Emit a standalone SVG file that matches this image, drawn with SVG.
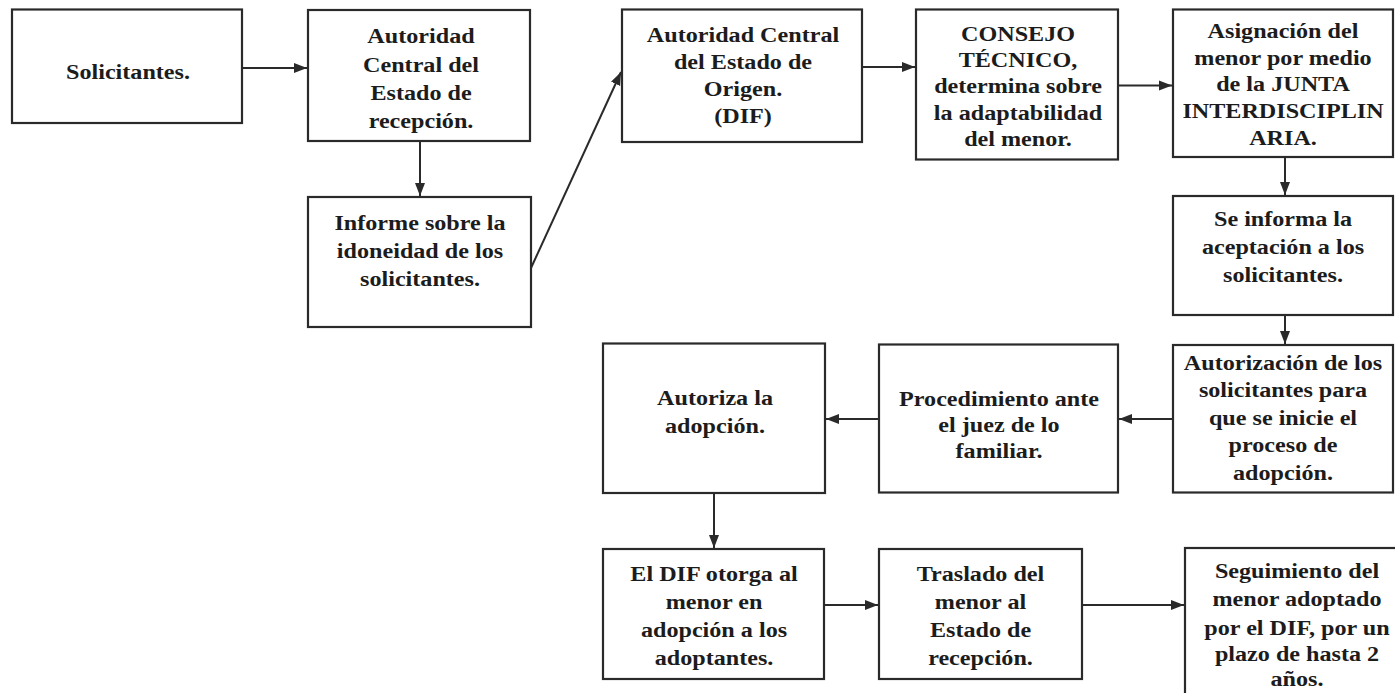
<svg xmlns="http://www.w3.org/2000/svg" width="1395" height="693" viewBox="0 0 1395 693">
<defs>
<style>
.box{fill:#ffffff;stroke:#2a2a2a;stroke-width:2.2}
.t{font-family:"Liberation Serif","Times New Roman",serif;font-weight:bold;font-size:21px;fill:#1c1c1c;text-anchor:middle}
.c{fill:none;stroke:#2a2a2a;stroke-width:2}
</style>
<marker id="ah" markerUnits="userSpaceOnUse" markerWidth="14" markerHeight="12" viewBox="0 0 14 12" refX="13" refY="6" orient="auto">
<path d="M0,1 L13,6 L0,11 Z" fill="#2a2a2a"/>
</marker>
</defs>
<rect width="1395" height="693" fill="#ffffff"/>

<g id="connectors">
<line class="c" x1="234" y1="68" x2="307" y2="68" marker-end="url(#ah)"/>
<line class="c" x1="420" y1="141" x2="420" y2="196" marker-end="url(#ah)"/>
<line class="c" x1="531" y1="268" x2="621" y2="72" marker-end="url(#ah)"/>
<line class="c" x1="862" y1="67" x2="915" y2="67" marker-end="url(#ah)"/>
<line class="c" x1="1118" y1="85.5" x2="1172" y2="85.5" marker-end="url(#ah)"/>
<line class="c" x1="1285" y1="157" x2="1285" y2="195" marker-end="url(#ah)"/>
<line class="c" x1="1285" y1="315" x2="1285" y2="344" marker-end="url(#ah)"/>
<line class="c" x1="1173" y1="419" x2="1119" y2="419" marker-end="url(#ah)"/>
<line class="c" x1="879" y1="419" x2="826" y2="419" marker-end="url(#ah)"/>
<line class="c" x1="714" y1="493" x2="714" y2="548" marker-end="url(#ah)"/>
<line class="c" x1="824" y1="605" x2="878" y2="605" marker-end="url(#ah)"/>
<line class="c" x1="1082" y1="605" x2="1184" y2="605" marker-end="url(#ah)"/>
</g>

<g id="n1">
<rect class="box" x="12" y="9.5" width="230" height="113.5"/>
<text class="t" transform="translate(128 0) scale(1.15 1)"><tspan x="0" y="79">Solicitantes.</tspan></text>
</g>

<g id="n2">
<rect class="box" x="308" y="10" width="222" height="131"/>
<text class="t" transform="translate(421 0) scale(1.15 1)"><tspan x="0" y="42.7">Autoridad</tspan><tspan x="0" y="71.7">Central del</tspan><tspan x="0" y="100">Estado de</tspan><tspan x="0" y="128.3">recepción.</tspan></text>
</g>

<g id="n3">
<rect class="box" x="308" y="197" width="223" height="130"/>
<text class="t" transform="translate(420 0) scale(1.15 1)"><tspan x="0" y="230">Informe sobre la</tspan><tspan x="0" y="258.3">idoneidad de los</tspan><tspan x="0" y="286">solicitantes.</tspan></text>
</g>

<g id="n4">
<rect class="box" x="622" y="9.5" width="240" height="132.5"/>
<text class="t" transform="translate(743 0) scale(1.15 1)"><tspan x="0" y="42">Autoridad Central</tspan><tspan x="0" y="69">del Estado de</tspan><tspan x="0" y="96">Origen.</tspan><tspan x="0" y="123">(DIF)</tspan></text>
</g>

<g id="n5">
<rect class="box" x="916" y="9.5" width="202" height="150"/>
<text class="t" transform="translate(1018 0) scale(1.15 1)"><tspan x="0" y="41">CONSEJO</tspan><tspan x="0" y="67">TÉCNICO,</tspan><tspan x="0" y="93.5">determina sobre</tspan><tspan x="0" y="120">la adaptabilidad</tspan><tspan x="0" y="146.5">del menor.</tspan></text>
</g>

<g id="n6">
<rect class="box" x="1173" y="9.5" width="220" height="147.5"/>
<text class="t" transform="translate(1283 0) scale(1.15 1)"><tspan x="0" y="38">Asignación del</tspan><tspan x="0" y="65">menor por medio</tspan><tspan x="0" y="91.5">de la JUNTA</tspan><tspan x="0" y="118">INTERDISCIPLIN</tspan><tspan x="0" y="145">ARIA.</tspan></text>
</g>

<g id="n7">
<rect class="box" x="1173" y="196" width="220" height="119"/>
<text class="t" transform="translate(1283 0) scale(1.15 1)"><tspan x="0" y="226">Se informa la</tspan><tspan x="0" y="254">aceptación a los</tspan><tspan x="0" y="282">solicitantes.</tspan></text>
</g>

<g id="n8">
<rect class="box" x="1173" y="345" width="220" height="147.5"/>
<text class="t" transform="translate(1283 0) scale(1.15 1)"><tspan x="0" y="370">Autorización de los</tspan><tspan x="0" y="397.5">solicitantes para</tspan><tspan x="0" y="425">que se inicie el</tspan><tspan x="0" y="452.5">proceso de</tspan><tspan x="0" y="480">adopción.</tspan></text>
</g>

<g id="n9">
<rect class="box" x="879" y="344.5" width="239" height="148"/>
<text class="t" transform="translate(999 0) scale(1.15 1)"><tspan x="0" y="406.5">Procedimiento ante</tspan><tspan x="0" y="432">el juez de lo</tspan><tspan x="0" y="458">familiar.</tspan></text>
</g>

<g id="n10">
<rect class="box" x="603" y="343.5" width="222" height="149.5"/>
<text class="t" transform="translate(715 0) scale(1.15 1)"><tspan x="0" y="405">Autoriza la</tspan><tspan x="0" y="433">adopción.</tspan></text>
</g>

<g id="n11">
<rect class="box" x="603" y="549" width="221" height="130"/>
<text class="t" transform="translate(714 0) scale(1.15 1)"><tspan x="0" y="581.5">El DIF otorga al</tspan><tspan x="0" y="609.5">menor en</tspan><tspan x="0" y="637">adopción a los</tspan><tspan x="0" y="665.5">adoptantes.</tspan></text>
</g>

<g id="n12">
<rect class="box" x="879" y="549" width="203" height="130"/>
<text class="t" transform="translate(980.5 0) scale(1.15 1)"><tspan x="0" y="581.5">Traslado del</tspan><tspan x="0" y="609.5">menor al</tspan><tspan x="0" y="637">Estado de</tspan><tspan x="0" y="665.5">recepción.</tspan></text>
</g>

<g id="n13">
<rect class="box" x="1185" y="548" width="225" height="160"/>
<text class="t" transform="translate(1297 0) scale(1.15 1)"><tspan x="0" y="578">Seguimiento del</tspan><tspan x="0" y="606.5">menor adoptado</tspan><tspan x="0" y="635">por el DIF, por un</tspan><tspan x="0" y="661.5">plazo de hasta 2</tspan><tspan x="0" y="686">años.</tspan></text>
</g>
</svg>
